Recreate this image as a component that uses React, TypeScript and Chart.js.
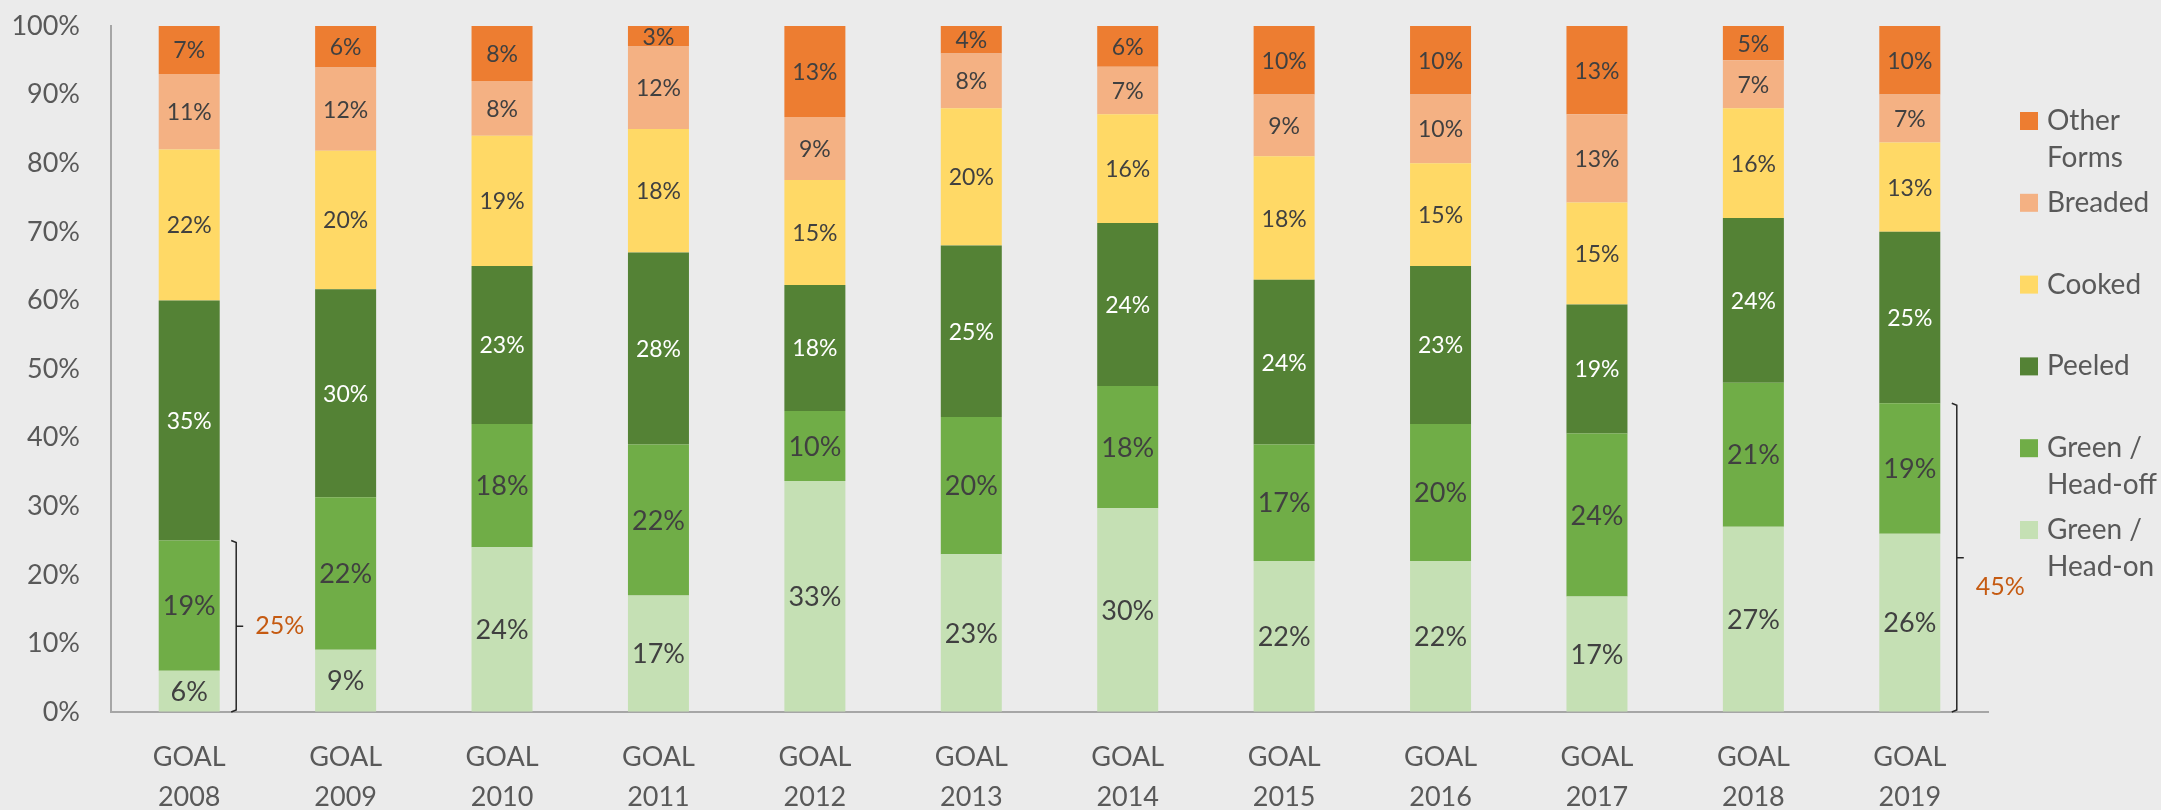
import React, { useEffect, useRef } from "react";
import { Chart, registerables } from "chart.js";

Chart.register(...registerables);

const categories: string[][] = [
  ["GOAL", "2008"], ["GOAL", "2009"], ["GOAL", "2010"], ["GOAL", "2011"],
  ["GOAL", "2012"], ["GOAL", "2013"], ["GOAL", "2014"], ["GOAL", "2015"],
  ["GOAL", "2016"], ["GOAL", "2017"], ["GOAL", "2018"], ["GOAL", "2019"],
];

const headOn = [6, 9, 24, 17, 33, 23, 30, 22, 22, 17, 27, 26];
const headOff = [19, 22, 18, 22, 10, 20, 18, 17, 20, 24, 21, 19];
const peeled = [35, 30, 23, 28, 18, 25, 24, 24, 23, 19, 24, 25];
const cooked = [22, 20, 19, 18, 15, 20, 16, 18, 15, 15, 16, 13];
const breaded = [11, 12, 8, 12, 9, 8, 7, 9, 10, 13, 7, 7];
const otherForms = [7, 6, 8, 3, 13, 4, 6, 10, 10, 13, 5, 10];

const seriesNames = ["Green / Head-on", "Green / Head-off", "Peeled", "Cooked", "Breaded", "Other Forms"];
const legendLines: string[][] = [
  ["Green /", "Head-on"],
  ["Green /", "Head-off"],
  ["Peeled"],
  ["Cooked"],
  ["Breaded"],
  ["Other", "Forms"],
];
const seriesColors = ["#C5E0B4", "#70AD47", "#548235", "#FFD966", "#F4B183", "#ED7D31"];
const labelColors = ["#404040", "#404040", "#FFFFFF", "#404040", "#404040", "#404040"];
const labelSizes = [27, 27, 23, 23, 23, 23];

const yTicks = [0, 10, 20, 30, 40, 50, 60, 70, 80, 90, 100];

// bracket annotations: which categories, summing the two green series
const bracketCategories = [0, 11];

const FONT = "Lato, 'Open Sans', sans-serif";

const rawSeries = [headOn, headOff, peeled, cooked, breaded, otherForms];
const totals = categories.map((_, i) => rawSeries.reduce((s, arr) => s + arr[i], 0));
const normSeries = rawSeries.map((arr) => arr.map((v, i) => (v / totals[i]) * 100));

export default function App() {
  const ref = useRef<HTMLCanvasElement | null>(null);

  useEffect(() => {
    const canvas = ref.current;
    if (!canvas) return;

    const bgPlugin = {
      id: "bg",
      beforeDraw(chart: any) {
        const ctx = chart.ctx;
        ctx.save();
        ctx.fillStyle = "#EBEBEB";
        ctx.fillRect(0, 0, chart.width, chart.height);
        ctx.restore();
      },
    };

    const labelsPlugin = {
      id: "barLabels",
      afterDatasetsDraw(chart: any) {
        const ctx = chart.ctx;
        ctx.save();
        ctx.textAlign = "center";
        ctx.textBaseline = "middle";
        chart.data.datasets.forEach((ds: any, di: number) => {
          const meta = chart.getDatasetMeta(di);
          meta.data.forEach((el: any, i: number) => {
            const v = rawSeries[di][i];
            ctx.font = `${labelSizes[di]}px ${FONT}`;
            ctx.fillStyle = labelColors[di];
            ctx.fillText(`${v}%`, el.x, (el.y + el.base) / 2 + 1);
          });
        });
        ctx.restore();
      },
    };

    const bracketPlugin = {
      id: "brackets",
      afterDraw(chart: any) {
        const ctx = chart.ctx;
        const xs = chart.scales.x;
        const ys = chart.scales.y;
        ctx.save();
        bracketCategories.forEach((ci, k) => {
          const sum = normSeries[0][ci] + normSeries[1][ci];
          const label = rawSeries[0][ci] + rawSeries[1][ci];
          const bx = xs.getPixelForValue(ci) + 47;
          const yTop = ys.getPixelForValue(sum);
          const yBot = ys.getPixelForValue(0);
          const yMid = (yTop + yBot) / 2;
          ctx.strokeStyle = "#262626";
          ctx.lineWidth = 1.5;
          ctx.beginPath();
          ctx.moveTo(bx - 5, yTop);
          ctx.lineTo(bx, yTop + 2);
          ctx.lineTo(bx, yBot - 2);
          ctx.lineTo(bx - 5, yBot);
          ctx.moveTo(bx, yMid);
          ctx.lineTo(bx + 7, yMid);
          ctx.stroke();
          ctx.font = `25px ${FONT}`;
          ctx.fillStyle = "#C55A11";
          ctx.textAlign = "left";
          ctx.textBaseline = "middle";
          ctx.fillText(`${label}%`, bx + 19, yMid + (k === 0 ? 0 : 29));
        });
        ctx.restore();
      },
    };

    const legendPlugin = {
      id: "customLegend",
      afterDraw(chart: any) {
        const ctx = chart.ctx;
        ctx.save();
        ctx.font = `28px ${FONT}`;
        ctx.textBaseline = "middle";
        ctx.textAlign = "left";
        const order = [5, 4, 3, 2, 1, 0];
        order.forEach((si, idx) => {
          const y0 = 121 + idx * 81.8;
          ctx.fillStyle = seriesColors[si];
          ctx.fillRect(2020, y0 - 9, 18, 18);
          ctx.fillStyle = "#595959";
          legendLines[si].forEach((line, li) => {
            ctx.fillText(line, 2047, y0 + li * 36.5);
          });
        });
        ctx.restore();
      },
    };

    const chart = new Chart(canvas, {
      type: "bar",
      data: {
        labels: categories,
        datasets: normSeries.map((arr, i) => ({
          label: seriesNames[i],
          data: arr,
          backgroundColor: seriesColors[i],
          borderWidth: 0,
          barPercentage: 0.39,
          categoryPercentage: 1,
        })),
      },
      options: {
        responsive: false,
        animation: false,
        devicePixelRatio: 1,
        layout: { padding: { left: 0, right: 173, top: 26, bottom: 0 } },
        plugins: {
          legend: { display: false },
          tooltip: { enabled: false },
          title: { display: false },
        },
        scales: {
          x: {
            stacked: true,
            grid: { display: true, drawOnChartArea: false, drawTicks: false },
            border: { display: true, color: "#A6A6A6", width: 2 },
            ticks: {
              color: "#595959",
              font: { family: FONT, size: 27, lineHeight: 1.48 },
              padding: 25,
              maxRotation: 0,
              autoSkip: false,
            },
            afterFit(scale: any) {
              scale.height = 98;
              scale.paddingTop = 0;
            },
          },
          y: {
            stacked: true,
            min: 0,
            max: 100,
            grid: { display: true, drawOnChartArea: false, drawTicks: false },
            border: { display: true, color: "#A6A6A6", width: 2 },
            afterBuildTicks(scale: any) {
              scale.ticks = yTicks.map((v) => ({ value: v }));
            },
            ticks: {
              color: "#595959",
              font: { family: FONT, size: 27 },
              padding: 31,
              callback: (v: any) => `${v}%`,
            },
            afterFit(scale: any) {
              scale.width = 111;
              scale.paddingTop = 0;
              scale.paddingBottom = 0;
            },
          },
        },
      },
      plugins: [bgPlugin, labelsPlugin, bracketPlugin, legendPlugin],
    });

    return () => chart.destroy();
  }, []);

  return (
    <div style={{ position: "fixed", left: 0, top: 0, width: 2161, height: 810, background: "#EBEBEB" }}>
      <canvas ref={ref} width={2161} height={810} style={{ display: "block" }} />
    </div>
  );
}
